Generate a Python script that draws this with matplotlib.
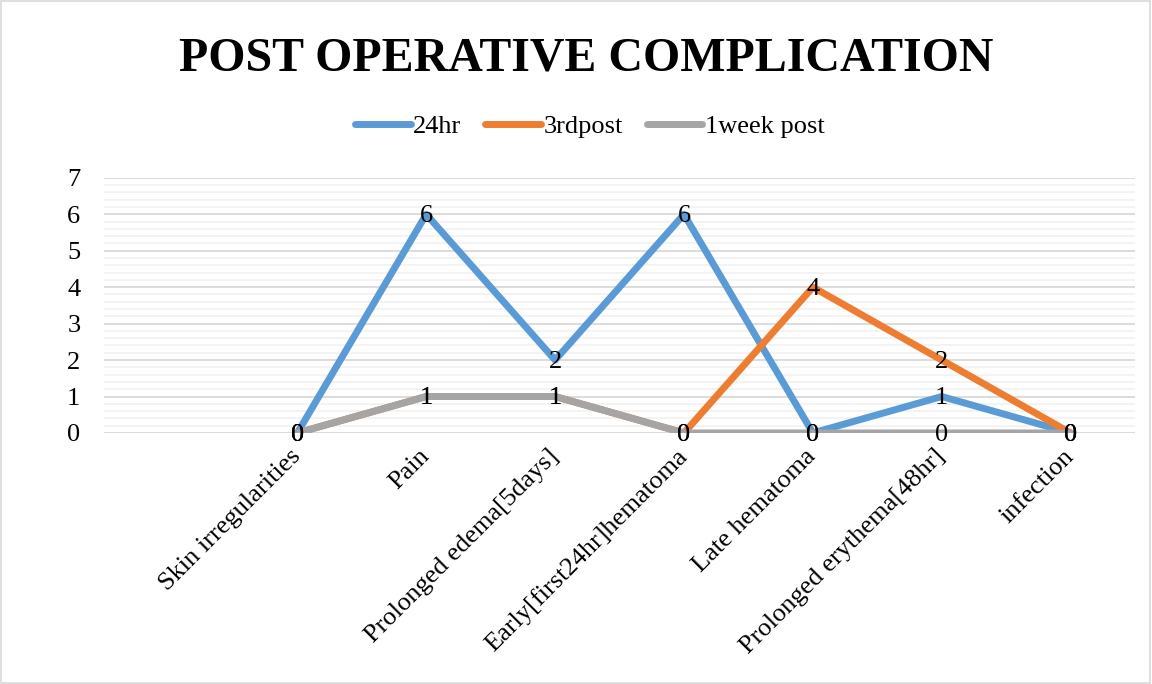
import matplotlib
matplotlib.use('Agg')
import numpy as np
import matplotlib.pyplot as plt
from matplotlib.patches import Rectangle

# complications per follow-up visit
categories = ["Skin irregularities", "Pain", "Prolonged edema[5days]",
              "Early[first24hr]hematoma", "Late hematoma",
              "Prolonged erythema[48hr]", "infection"]
series_names = ["24hr", "3rdpost", "1week post"]
hr24 = [0, 6, 2, 6, 0, 1, 0]
post3rd = [0, 1, 1, 0, 4, 2, 0]
week1 = [0, 1, 1, 0, 0, 0, 0]
colors = ["#5b9bd5", "#ed7d31", "#a5a5a5"]

plt.rcParams['font.family'] = ['Liberation Serif', 'DejaVu Serif']

fig = plt.figure(figsize=(11.52, 6.84), dpi=100)
ax = fig.add_axes([0.0903, 0.367, 0.895, 0.373])

# leave an empty slot before the first category
x = np.arange(1, len(categories) + 1)

for vals, name, c in zip([hr24, post3rd, week1], series_names, colors):
    ax.plot(x, vals, color=c, lw=5, label=name, solid_capstyle='round',
            solid_joinstyle='round', zorder=3)

for vals in [hr24, post3rd, week1]:
    for xi, v in zip(x, vals):
        ax.text(xi, v - 0.05, str(v), ha='center', va='center', fontsize=19,
                color='black', zorder=5)

ax.set_xlim(-0.5, len(categories) + 0.5)
ax.set_ylim(0, 7)
ax.set_yticks(range(0, 8))
ax.set_yticks(np.arange(0, 7.01, 0.2), minor=True)
ax.grid(axis='y', which='minor', color='#f2f2f2', lw=1.3, zorder=0)
ax.grid(axis='y', which='major', color='#d9d9d9', lw=1.3, zorder=1)
ax.tick_params(axis='y', which='both', length=0, labelsize=19, pad=17)
ax.tick_params(axis='x', length=0)
ax.set_xticks(x)
ax.set_xticklabels([])
for s in ax.spines.values():
    s.set_visible(False)

for xi, lab in zip(x, categories):
    ax.text(xi + 0.0, -0.55, lab, rotation=45, rotation_mode='anchor',
            ha='right', va='center', fontsize=19, transform=ax.transData)

fig.text(0.509, 0.915, "POST OPERATIVE COMPLICATION", ha='center', va='center',
         fontsize=34.5, fontweight='bold')

leg = fig.legend(loc='center', bbox_to_anchor=(0.512, 0.815), ncol=3,
                 frameon=False, fontsize=19, handlelength=2.1,
                 handletextpad=0.1, columnspacing=0.9)

fig.patches.append(Rectangle((0.001, 0.001), 0.997, 0.997, transform=fig.transFigure,
                             fill=False, edgecolor='#d9d9d9', lw=1.2))

fig.savefig("out.png", dpi=100)
